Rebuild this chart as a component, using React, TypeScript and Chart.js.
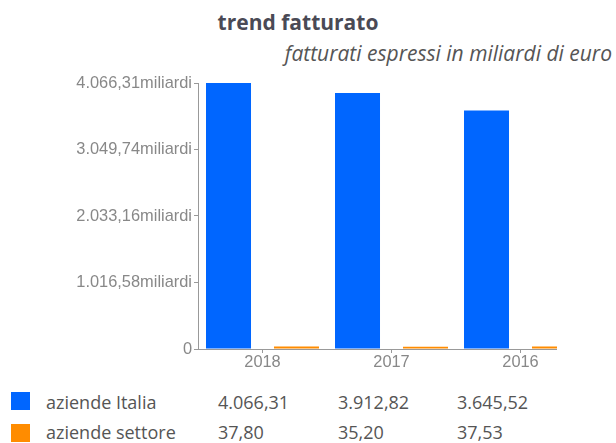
import React, { useEffect, useRef } from 'react';
import { Chart, registerables } from 'chart.js';

Chart.register(...registerables);

const titleText = 'trend fatturato';
const subtitleText = 'fatturati espressi in miliardi di euro';
const categories = ['2018', '2017', '2016'];
const italiaValues = [4066.31, 3912.82, 3645.52];
const settoreValues = [37.8, 35.2, 37.53];
const seriesNames = ['aziende Italia', 'aziende settore'];
const seriesColors = ['#0066ff', '#ff8c00'];
const yTickValues = [0, 1016.58, 2033.16, 3049.74, 4066.31];
const yTickLabels = ['0', '1.016,58miliardi', '2.033,16miliardi', '3.049,74miliardi', '4.066,31miliardi'];

const fmt = (v: number) => {
  const [i, d] = v.toFixed(2).split('.');
  return i.replace(/\B(?=(\d{3})+(?!\d))/g, '.') + ',' + d;
};

const tickFont = { family: "'Liberation Sans', Arial, sans-serif", size: 16.4 };

export default function App() {
  const ref = useRef<HTMLCanvasElement | null>(null);

  useEffect(() => {
    if (!ref.current) return;
    const chart = new Chart(ref.current, {
      type: 'bar',
      data: {
        labels: categories,
        datasets: [
          {
            label: seriesNames[0],
            data: italiaValues,
            backgroundColor: seriesColors[0],
            categoryPercentage: 1.054,
            barPercentage: 0.662,
          },
          {
            label: seriesNames[1],
            data: settoreValues,
            backgroundColor: seriesColors[1],
            categoryPercentage: 1.054,
            barPercentage: 0.662,
          },
        ],
      },
      options: {
        animation: false,
        responsive: false,
        layout: { padding: { top: 13, left: 0, right: 0, bottom: 0 } },
        plugins: {
          legend: { display: false },
          tooltip: { enabled: false },
          title: { display: false },
        },
        scales: {
          x: {
            grid: { offset: false, drawOnChartArea: false, drawTicks: true, tickLength: 4, color: '#999' },
            border: { display: true, color: '#999' },
            ticks: { color: '#888', font: tickFont, padding: 0 },
            afterFit: (s: any) => {
              s.height = 31;
            },
          },
          y: {
            min: 0,
            max: yTickValues[yTickValues.length - 1],
            afterBuildTicks: (s: any) => {
              s.ticks = yTickValues.map((v) => ({ value: v }));
            },
            grid: { drawOnChartArea: false, drawTicks: true, tickLength: 4, color: '#999' },
            border: { display: true, color: '#999' },
            ticks: {
              color: '#888',
              font: tickFont,
              padding: 2,
              callback: (_v: any, i: number) => yTickLabels[i],
            },
            afterFit: (s: any) => {
              s.width = 190;
            },
          },
        },
      },
    } as any);
    return () => chart.destroy();
  }, []);

  const rows = [italiaValues, settoreValues];
  const colX = [218, 338, 457];

  return (
    <div
      style={{
        position: 'fixed',
        left: 0,
        top: 0,
        width: 616,
        height: 443,
        overflow: 'hidden',
        background: '#fff',
        fontFamily: "'Open Sans', sans-serif",
      }}
    >
      <div
        style={{
          position: 'absolute',
          left: 0,
          top: 10,
          width: 596,
          textAlign: 'center',
          fontWeight: 700,
          fontSize: 21,
          lineHeight: '24px',
          color: '#4a4a55',
          whiteSpace: 'nowrap',
        }}
      >
        {titleText}
      </div>
      <div
        style={{
          position: 'absolute',
          left: 0,
          top: 41,
          width: 612,
          textAlign: 'right',
          fontStyle: 'italic',
          fontSize: 21,
          lineHeight: '24px',
          color: '#555',
          whiteSpace: 'nowrap',
        }}
      >
        {subtitleText}
      </div>
      <div style={{ position: 'absolute', left: 8, top: 70, width: 549, height: 310, overflow: 'hidden' }}>
        <canvas ref={ref} width={577} height={310} style={{ display: 'block', width: 577, height: 310 }} />
      </div>
      {rows.map((vals, r) => (
        <React.Fragment key={r}>
          <div
            style={{
              position: 'absolute',
              left: 11,
              top: 392 + r * 32,
              width: 19,
              height: 18,
              background: seriesColors[r],
            }}
          />
          <div
            style={{
              position: 'absolute',
              left: 46,
              top: 387 + r * 30,
              fontSize: 18,
              lineHeight: '30px',
              color: '#555',
              whiteSpace: 'nowrap',
            }}
          >
            {seriesNames[r]}
          </div>
          {vals.map((v, c) => (
            <div
              key={c}
              style={{
                position: 'absolute',
                left: colX[c],
                top: 387 + r * 30,
                fontSize: 18,
                lineHeight: '30px',
                color: '#555',
                whiteSpace: 'nowrap',
              }}
            >
              {fmt(v)}
            </div>
          ))}
        </React.Fragment>
      ))}
    </div>
  );
}
